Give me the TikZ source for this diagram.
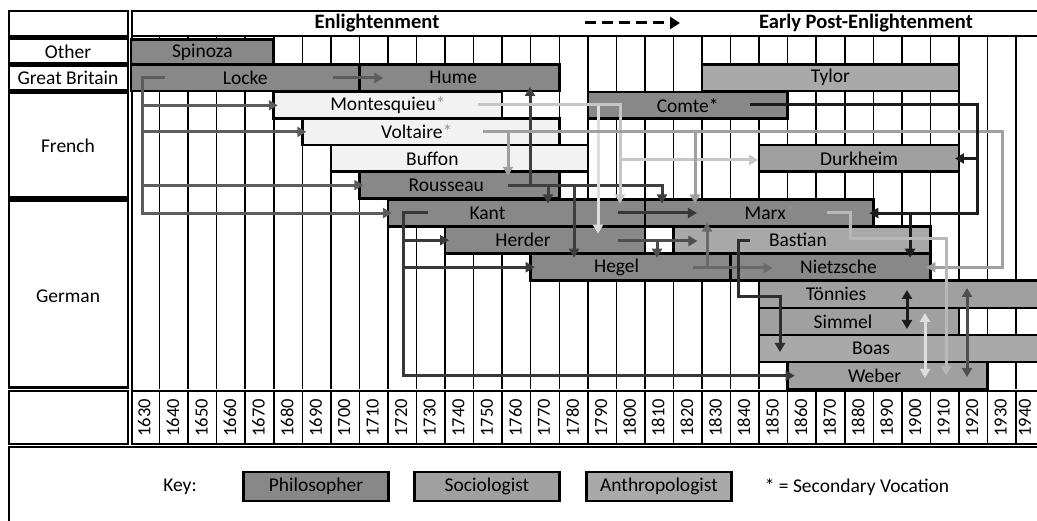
\documentclass[tikz,border=0pt]{standalone}
\usepackage{fontspec}
\setmainfont{Carlito}
\usetikzlibrary{arrows.meta}
\definecolor{philo}{RGB}{136,136,136}
\definecolor{socio}{RGB}{160,160,160}
\definecolor{anthro}{RGB}{169,169,169}
\definecolor{pale}{RGB}{242,242,242}
\definecolor{star}{RGB}{150,150,150}
\definecolor{lockec}{RGB}{92,92,92}
\definecolor{rousc}{RGB}{62,62,62}
\definecolor{montc}{RGB}{198,198,198}
\definecolor{montlc}{RGB}{222,222,222}
\definecolor{voltc}{RGB}{160,160,160}
\definecolor{comtec}{RGB}{28,28,28}
\definecolor{kantc}{RGB}{56,56,56}
\definecolor{herdc}{RGB}{78,78,78}
\definecolor{hegc}{RGB}{106,106,106}
\definecolor{bastc}{RGB}{46,46,46}
\definecolor{marxc}{RGB}{184,184,184}
\newcommand\lbl{\fontsize{19.5}{23}\selectfont}
% name, styles, from, to, top, label shift, text
\newcommand\lifespan[7]{%
  \node[#2,anchor=north west,minimum width={(#4-#3)*2.855pt},
    label={[xshift=#6pt]center:#7}] (#1) at ({yr(#3)},#5) {};}

\begin{document}
\begin{tikzpicture}[x=1pt,y=-1pt,font=\lbl,
  declare function={yr(\t)=131+(\t-1630)*2.855;},
  frame/.style={draw=black,line width=2.6pt},
  grid/.style={draw=black,line width=1.5pt},
  box/.style={draw=black,line width=2.6pt,inner sep=0pt,outer sep=0pt},
  phil/.style={box,fill=philo}, soc/.style={box,fill=socio},
  anth/.style={box,fill=anthro}, light/.style={box,fill=pale},
  ot/.style={minimum height=25pt}, gb/.style={minimum height=26.5pt},
  fr/.style={minimum height=26.6pt}, de/.style={minimum height=27.1pt},
  arr/.style={line width=3pt,-{Triangle[length=9pt,width=10pt]},shorten >=-4pt},
  pair/.style={line width=3pt,{Triangle[length=9pt,width=10pt]}-{Triangle[length=9pt,width=10pt]}},
  year/.style={rotate=90,inner sep=0pt,font=\fontsize{18.5}{20}\selectfont},
  keybox/.style={box,minimum width=145pt,minimum height=29pt}]
\useasboundingbox (0,0) rectangle (1037,521);
\clip (0,0) rectangle (1037,521);

% table frame and decade lines
\draw[frame] (9,11) rectangle (128,36) (132,11) rectangle (1060,36);
\draw[frame] (9,38.5) rectangle (128,63.5) (9,65.5) rectangle (128,90.5);
\draw[frame] (9,92.5) rectangle (128,197.5) (9,200.5) rectangle (128,387.5);
\draw[frame] (132,36) -- (132,390);
\foreach \d in {1640,1650,...,1950} {
  \draw[grid] ({yr(\d)},37) -- ({yr(\d)},389);
  \draw[grid] ({yr(\d)},391) -- ({yr(\d)},444);}
\draw[frame] (9,391) rectangle (128,444) (132,391) rectangle (1060,444);
\draw[frame] (9,447) rectangle (1060,540);

% headings
\node (hcountry) at (68,52) {Other};
\node (hgb) at (68,78) {Great Britain};
\node (hfr) at (68,146) {French};
\node (hde) at (68,296) {German};
\node[font=\fontsize{20.5}{24}\selectfont\bfseries] (enl) at (377,23) {Enlightenment};
\node[font=\fontsize{20.5}{24}\selectfont\bfseries] (epe) at (866,23) {Early Post-Enlightenment};
\coordinate (era0) at (585,23); \coordinate (era1) at (680,23);
\draw[line width=3pt,dash pattern=on 11pt off 6pt,-{Triangle[length=10pt,width=12pt]}] (era0) -- (era1);
\foreach \d in {1630,1640,...,1940}
  \node[year] (y\d) at ({min(yr(\d)+13.3,1025)},418) {\d};

% life spans
\lifespan{spinoza}{phil,ot}{1630}{1680}{39.5}{0}{Spinoza}
\lifespan{locke}{phil,gb}{1630}{1710}{64.5}{0}{Locke}
\lifespan{hume}{phil,gb}{1710}{1780}{64.5}{-6}{Hume}
\lifespan{tylor}{anth,gb}{1830}{1920}{64.5}{0}{Tylor}
\lifespan{montesquieu}{light,fr}{1680}{1760}{92}{0}{Montesquieu\textcolor{star}{*}}
\lifespan{comte}{phil,fr}{1790}{1860}{92}{0}{Comte*}
\lifespan{voltaire}{light,fr}{1690}{1780}{118.6}{-14}{Voltaire\textcolor{star}{*}}
\lifespan{buffon}{light,fr}{1700}{1790}{145.2}{-27}{Buffon}
\lifespan{durkheim}{soc,fr}{1850}{1920}{145.2}{0}{Durkheim}
\lifespan{rousseau}{phil,fr}{1710}{1780}{171.8}{-13}{Rousseau}
\lifespan{kant}{phil,de}{1720}{1810}{199.5}{-29}{Kant}
\lifespan{marx}{phil,de}{1810}{1890}{199.5}{11}{Marx\textcolor{star}{*}}
\lifespan{herder}{phil,de}{1740}{1810}{226.6}{-22}{Herder}
\lifespan{bastian}{anth,de}{1820}{1910}{226.6}{-4}{Bastian}
\lifespan{hegel}{phil,de}{1770}{1840}{253.7}{-14}{Hegel}
\lifespan{nietzsche}{phil,de}{1840}{1910}{253.7}{8}{Nietzsche}
\lifespan{toennies}{soc,de}{1850}{1960}{280.8}{-80}{Tönnies}
\lifespan{simmel}{soc,de}{1850}{1920}{307.9}{-16}{Simmel}
\lifespan{boas}{anth,de}{1850}{1960}{335}{-45}{Boas}
\lifespan{weber}{soc,de}{1860}{1930}{362.1}{-13}{Weber}

% Locke
\coordinate (lk0) at (165,78); \coordinate (lk1) at (142,78); \coordinate (lk2) at (333,78);
\draw[arr,lockec] (lk0) -- (lk1) |- (kant.west);
\draw[arr,lockec] (lk1) |- (montesquieu.west); \draw[arr,lockec] (lk1) |- (voltaire.west);
\draw[arr,lockec] (lk1) |- (rousseau.west);
\draw[arr,lockec,shorten >=-24pt] (lk2) -- (lk2 -| hume.west);
% Rousseau
\coordinate (rs0) at (508,186); \coordinate (rs1) at (662,186);
\coordinate (rs2) at (530,186); \coordinate (rs3) at (548,186); \coordinate (rs4) at (574,186);
\draw[arr,rousc] (rs0) -| (rs1 |- marx.north);
\draw[arr,rousc] (rs2) -- (rs2 |- hume.south);
\draw[arr,rousc] (rs3) -- (rs3 |- kant.north); \draw[arr,rousc] (rs4) -- (rs4 |- hegel.north);
% Montesquieu
\coordinate (mq0) at (478,105); \coordinate (mq1) at (620,105);
\coordinate (mq2) at (598,105); \coordinate (mq3) at (620,160);
\draw[arr,montlc,shorten >=-7pt] (mq2) -- (mq2 |- herder.north);
\draw[arr,montc] (mq0) -| (mq1 |- kant.north);
\draw[arr,montc,shorten >=1pt] (mq3) -- (mq3 -| durkheim.west);
% Voltaire
\coordinate (vt0) at (483,132); \coordinate (vt1) at (1002,132);
\coordinate (vt2) at (508,132); \coordinate (vt3) at (695,132);
\draw[arr,voltc] (vt0) -- (vt1) |- (nietzsche.east);
\draw[arr,voltc] (vt2) -- (vt2 |- rousseau.north); \draw[arr,voltc] (vt3) -- (vt3 |- marx.north);
% Comte
\coordinate (ct0) at (750,105); \coordinate (ct1) at (977,105); \coordinate (ct2) at (910,213);
\draw[arr,comtec] (ct0) -- (ct1) |- (marx.east);
\draw[arr,comtec] (ct1) |- (durkheim.east);
\draw[arr,comtec] (ct2) -- (ct2 |- nietzsche.north);
% Kant
\coordinate (kt0) at (618,213); \coordinate (kt1) at (428,213); \coordinate (kt2) at (403,213);
\draw[arr,kantc,shorten >=-52pt] (kt0) -- (kt0 -| marx.west);
\draw[arr,kantc,shorten >=-7pt] (kt1) -- (kt2) |- (weber.west);
\draw[arr,kantc] (kt2) |- (herder.west); \draw[arr,kantc] (kt2) |- (hegel.west);
% Herder
\coordinate (hd0) at (618,241); \coordinate (hd1) at (657,241);
\draw[arr,herdc,shorten >=-24pt] (hd0) -- (hd0 -| bastian.west);
\draw[arr,herdc] (hd1) -- (hd1 |- hegel.north);
% Hegel
\coordinate (hg0) at (693,268); \coordinate (hg1) at (707,268);
\draw[arr,hegc,shorten >=-42pt] (hg0) -- (hg0 -| nietzsche.west);
\draw[arr,hegc] (hg1) -- (hg1 |- marx.south);
% Bastian
\coordinate (bs0) at (750,241); \coordinate (bs1) at (738,297); \coordinate (bs2) at (780,297);
\draw[arr,bastc,shorten >=-17pt] (bs0) -| (bs1) -| (bs2 |- boas.north);
% Marx
\coordinate (mx0) at (827,213); \coordinate (mx1) at (850,239); \coordinate (mx2) at (946,239);
\draw[arr,marxc,shorten >=-13pt] (mx0) -| (mx1) -| (mx2 |- weber.north);
% sociologists among themselves
\coordinate (tsa) at (907,290); \coordinate (tsb) at (907,329);
\coordinate (swa) at (925,313); \coordinate (swb) at (925,378);
\coordinate (twa) at (967,288); \coordinate (twb) at (967,377);
\draw[pair,comtec] (tsa) -- (tsb); \draw[pair,montlc] (swa) -- (swb);
\draw[pair,herdc] (twa) -- (twb);

% key
\node (keylbl) at (180,487) {Key:};
\node[keybox,fill=philo] (kphil) at (316,486.5) {Philosopher};
\node[keybox,fill=socio] (ksoc) at (487,486.5) {Sociologist};
\node[keybox,fill=anthro] (kanth) at (659,486.5) {Anthropologist};
\node (kstar) at (857,487) {* = Secondary Vocation};
\end{tikzpicture}
\end{document}
